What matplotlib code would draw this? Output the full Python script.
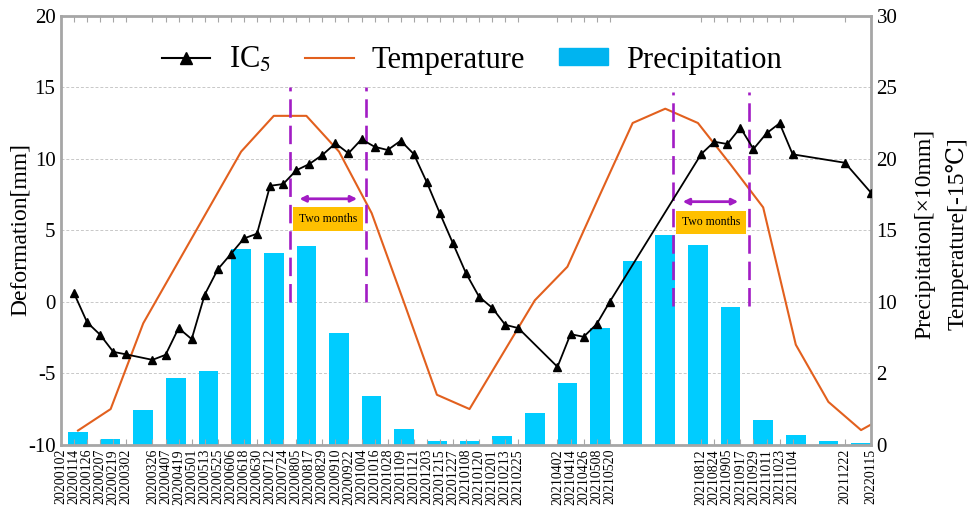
import matplotlib
matplotlib.use('Agg')
import matplotlib.pyplot as plt
import matplotlib.dates as mdates
from matplotlib.lines import Line2D
from matplotlib.patches import Patch
import numpy as np
from datetime import datetime

plt.rcParams['font.family'] = ['Liberation Serif', 'DejaVu Serif', 'DejaVu Sans']
plt.rcParams['mathtext.fontset'] = 'stix'
plt.rcParams['axes.unicode_minus'] = False

# acquisition dates written under the axis
tick_dates = ['20200102', '20200114', '20200126', '20200207', '20200219', '20200302',
              '20200326', '20200407', '20200419', '20200501', '20200513', '20200525',
              '20200606', '20200618', '20200630', '20200712', '20200724', '20200805',
              '20200817', '20200829', '20200910', '20200922', '20201004', '20201016',
              '20201028', '20201109', '20201121', '20201203', '20201215', '20201227',
              '20210108', '20210120', '20210201', '20210213', '20210225',
              '20210402', '20210414', '20210426', '20210508', '20210520',
              '20210812', '20210824', '20210905', '20210917', '20210929', '20211011',
              '20211023', '20211104', '20211222', '20220115']

# IC5 deformation (mm)
ic5_dates = tick_dates[1:]
ic5_values = [0.59, -1.44, -2.31, -3.50, -3.68,
              -4.06, -3.71, -1.84, -2.61, 0.5, 2.27, 3.34, 4.43, 4.76, 8.11, 8.23, 9.19,
              9.63, 10.26, 11.08, 10.38, 11.36, 10.84, 10.61, 11.26, 10.33, 8.35, 6.18, 4.08,
              1.99, 0.35, -0.42, -1.61, -1.84,
              -4.55, -2.26, -2.45, -1.56, 0.0,
              10.33, 11.19, 11.03, 12.17, 10.68, 11.78, 12.48, 10.31, 9.72, 7.62]

# monthly series (right axis)
months = ['2020-01', '2020-02', '2020-03', '2020-04', '2020-05', '2020-06', '2020-07',
          '2020-08', '2020-09', '2020-10', '2020-11', '2020-12', '2021-01', '2021-02',
          '2021-03', '2021-04', '2021-05', '2021-06', '2021-07', '2021-08', '2021-09',
          '2021-10', '2021-11', '2021-12', '2022-01', '2022-02']
temperature = [1.0, 2.5, 8.5, 12.5, 16.5, 20.5, 23.0, 23.0, 20.5, 16.2, 9.9, 3.5, 2.5,
               6.3, 10.1, 12.45, 17.5, 22.5, 23.5, 22.5, 19.6, 16.6, 7.0, 3.0, 1.03, 2.3]
precipitation = [0.87, 0.41, 2.43, 4.69, 5.14, 13.71, 13.39, 13.88, 7.82, 3.39, 1.10, 0.29,
                 0.29, 0.59, 2.24, 4.32, 8.19, 12.83, 14.69, 13.97, 9.66, 1.73, 0.69, 0.29, 0.13]

# lag windows
window_lines = [('2020-07-30', '2020-10-08', 0, 15), ('2021-07-17', '2021-09-25', -0.3, 14.7)]
arrow_spans = [('2020-08-08', '2020-09-30', 7.2), ('2021-07-26', '2021-09-15', 7.0)]
box_spots = [('2020-09-03', 5.8), ('2021-08-21', 5.55)]

purple = '#A21CC4'
orange = '#E2601E'
cyan = '#00CCFF'
frame = '#A6A6A6'

def d(s):
    fmt = '%Y%m%d' if '-' not in s else '%Y-%m-%d'
    return mdates.date2num(datetime.strptime(s, fmt))

fig = plt.figure(figsize=(9.7, 5.14), dpi=100)
rect = [0.0629, 0.1346, 0.8351, 0.8348]
axb = fig.add_axes(rect)
ax = fig.add_axes(rect)
ax.patch.set_visible(False)

# bars + temperature on right axis (monthly categories)
xm = np.arange(len(months))
axb.bar(xm[:len(precipitation)], precipitation, 0.6, color=cyan, zorder=2)
axb.plot(xm, temperature, color=orange, lw=1.5, zorder=3)
axb.set_xlim(-0.521, 24.307)
axb.set_ylim(0, 30)
axb.set_xticks([])
axb.yaxis.tick_right()
axb.set_yticks([0, 5, 10, 15, 20, 25, 30], ['0', '2', '10', '15', '20', '25', '30'])
axb.tick_params(axis='y', length=0, labelsize=15, pad=4)
axb.grid(axis='y', color='#C8C8C8', linestyle=(0, (3, 2)), lw=0.7, zorder=0)
for s in axb.spines.values():
    s.set_visible(False)

# IC5 on left axis (dates)
ax.plot([d(t) for t in ic5_dates], ic5_values, color='black', lw=1.3,
        marker='^', markersize=5.5, zorder=5)
for a, b, lo, hi in window_lines:
    for x in (a, b):
        ax.plot([d(x), d(x)], [lo, hi], color=purple, lw=1.9, dashes=(7, 3), zorder=4)
for a, b, y in arrow_spans:
    ax.annotate('', xy=(d(b), y), xytext=(d(a), y),
                arrowprops=dict(arrowstyle='<|-|>', color=purple, lw=2, mutation_scale=9,
                                shrinkA=0, shrinkB=0))
for x, y in box_spots:
    ax.text(d(x), y, 'Two months', fontsize=8.5, ha='center', va='center',
            bbox=dict(boxstyle='square,pad=0.5', fc='#FFC000', ec='none'))

ax.set_xlim(d('20200102'), d('20220115'))
ax.set_ylim(-10, 20)
ax.set_yticks([-10, -5, 0, 5, 10, 15, 20])
ax.tick_params(axis='y', length=0, labelsize=15, pad=4)
ax.set_xticks([d(t) for t in tick_dates], tick_dates, rotation=90)
ax.tick_params(axis='x', direction='in', top=True, length=4, color=frame,
               labelsize=10, pad=3)
for s in ax.spines.values():
    s.set_color(frame)
    s.set_linewidth(2)

fig.text(0.021, 0.553, 'Deformation[mm]', rotation=90, fontsize=17,
         ha='center', va='center')
fig.text(0.953, 0.545, 'Precipitation[×10mm]', rotation=90, fontsize=17,
         ha='center', va='center')
fig.text(0.987, 0.545, 'Temperature[-15℃]', rotation=90, fontsize=17,
         ha='center', va='center')

handles = [Line2D([], [], color='black', lw=1.5, marker='^', markersize=8),
           Line2D([], [], color=orange, lw=1.5),
           Patch(color='#00B4F0')]
ax.legend(handles, ['IC$_5$', 'Temperature', 'Precipitation'], ncol=3,
          loc='center', bbox_to_anchor=(0.507, 0.897), frameon=False, fontsize=22,
          handlelength=1.6, handleheight=0.5, handletextpad=0.6, columnspacing=1.1)

fig.savefig('out.png', dpi=100)
